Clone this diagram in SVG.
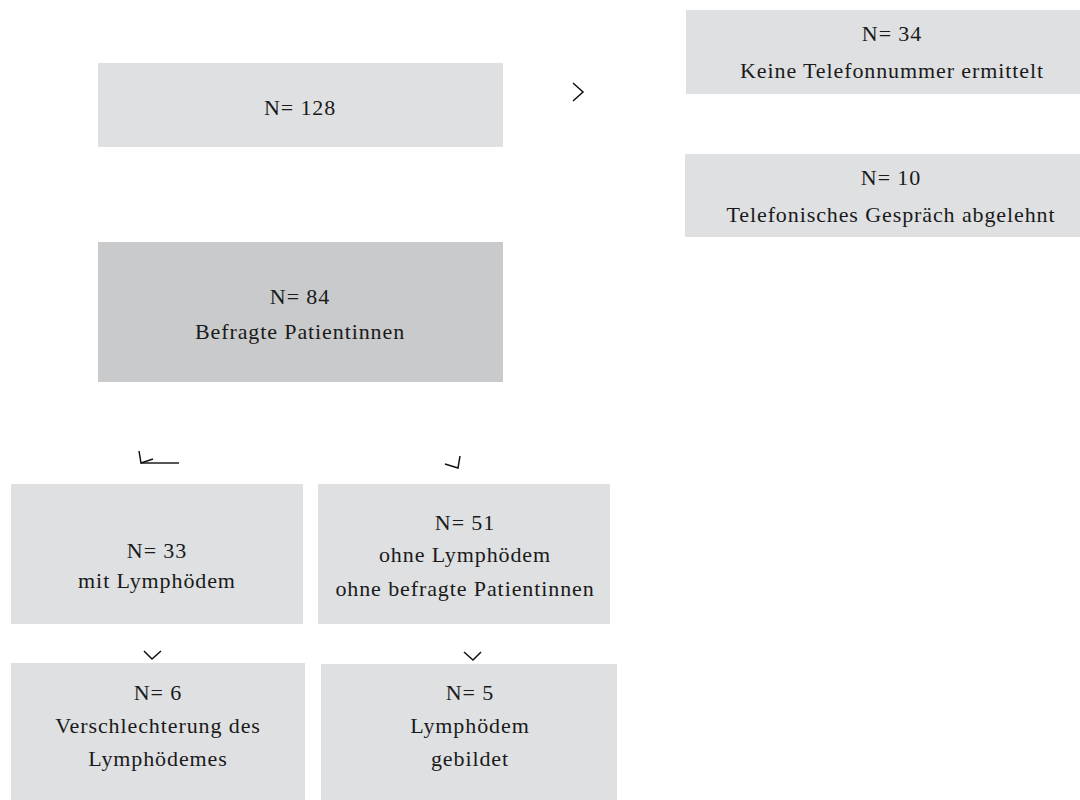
<svg xmlns="http://www.w3.org/2000/svg" width="1080" height="800" viewBox="0 0 1080 800">
<style>
.box{fill:#dfe0e2}
.dark{fill:#c9cacc}
text{font-family:"Liberation Serif","Times New Roman",serif;font-size:22px;letter-spacing:0.9px;fill:#1a1a1a;text-anchor:middle}
.ch{fill:none;stroke:#111;stroke-width:1.5}
.ln{fill:none;stroke:#555;stroke-width:2}
</style>
<rect width="1080" height="800" fill="#fff"/>
<g id="n128"><rect class="box" x="98" y="63" width="405" height="84"/><text x="300" y="115">N= 128</text></g>
<g id="n34"><rect class="box" x="686" y="10" width="394" height="84"/><text x="892" y="41">N= 34</text><text x="892" y="78">Keine Telefonnummer ermittelt</text></g>
<g id="n10"><rect class="box" x="685" y="154" width="395" height="83"/><text x="891" y="185">N= 10</text><text x="891" y="222">Telefonisches Gespräch abgelehnt</text></g>
<g id="n84"><rect class="dark" x="98" y="242" width="405" height="140"/><text x="300" y="304">N= 84</text><text x="300" y="339">Befragte Patientinnen</text></g>
<g id="n33"><rect class="box" x="11" y="484" width="292" height="140"/><text x="157" y="558">N= 33</text><text x="157" y="588">mit Lymphödem</text></g>
<g id="n51"><rect class="box" x="318" y="484" width="292" height="140"/><text x="465" y="530">N= 51</text><text x="465" y="562">ohne Lymphödem</text><text x="465" y="596">ohne befragte Patientinnen</text></g>
<g id="n6"><rect class="box" x="11" y="663" width="294" height="137"/><text x="158" y="700">N= 6</text><text x="158" y="733">Verschlechterung des</text><text x="158" y="766">Lymphödemes</text></g>
<g id="n5"><rect class="box" x="321" y="664" width="296" height="136"/><text x="470" y="700">N= 5</text><text x="470" y="733">Lymphödem</text><text x="470" y="766">gebildet</text></g>
<g id="connectors">
<polyline class="ch" points="573,83 583,92 573,101"/>
<line class="ln" x1="141" y1="463" x2="179" y2="463"/>
<polyline class="ch" points="139,451 141,463 153,459"/>
<polyline class="ch" points="445,464 458,468 460,456"/>
<polyline class="ch" points="144,651 152,659 161,651"/>
<polyline class="ch" points="464,652 473,660 481,652"/>
</g>
</svg>
